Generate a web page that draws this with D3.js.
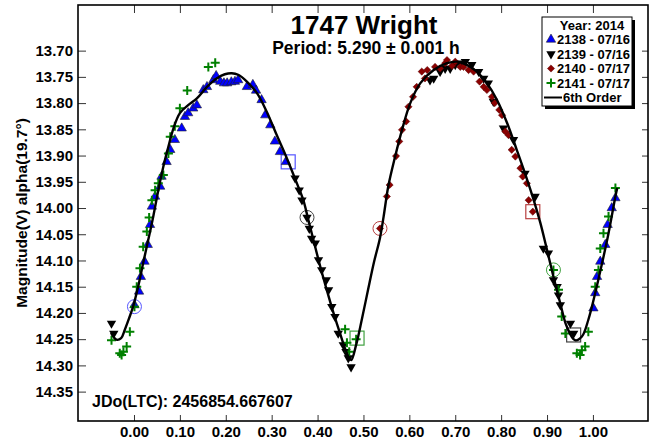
<!DOCTYPE html>
<html>
<head>
<meta charset="utf-8">
<script src="https://cdn.jsdelivr.net/npm/d3@7"></script>
<style>
  body { margin: 0; background: #fff; }
  svg text { font-family: Arial, "Liberation Sans", sans-serif; font-weight: bold; fill: #000; }
</style>
</head>
<body>
<svg id="chart" width="654" height="445"></svg>
<script>
// ---- data: [phase, magnitude] ----
const s2138 = [
  [0.001, 14.185], [0.011, 14.159], [0.015, 14.131], [0.023, 14.102], [0.030, 14.070], [0.035, 14.032],
  [0.039, 13.997], [0.046, 13.978], [0.057, 13.959], [0.060, 13.940], [0.071, 13.912], [0.079, 13.889],
  [0.089, 13.870], [0.104, 13.848], [0.111, 13.826], [0.118, 13.819], [0.129, 13.810], [0.137, 13.804],
  [0.151, 13.775], [0.159, 13.769], [0.173, 13.756], [0.179, 13.748], [0.188, 13.759], [0.196, 13.762],
  [0.203, 13.762], [0.212, 13.760], [0.220, 13.759], [0.227, 13.756], [0.246, 13.769], [0.259, 13.765],
  [0.266, 13.776], [0.278, 13.794], [0.286, 13.823], [0.297, 13.842], [0.307, 13.873], [0.318, 13.893],
  [0.331, 13.912],
  [1.001, 14.191], [1.005, 14.162], [1.009, 14.131], [1.016, 14.102], [1.027, 14.070], [1.032, 14.032],
  [1.041, 14.000], [1.049, 13.981]
];
const s2139 = [
  [-0.049, 14.220], [-0.044, 14.239],
  [0.351, 13.943], [0.360, 13.966], [0.366, 13.985], [0.377, 14.018], [0.382, 14.039], [0.387, 14.058],
  [0.395, 14.067], [0.402, 14.099], [0.409, 14.118], [0.419, 14.137], [0.424, 14.156], [0.431, 14.188],
  [0.438, 14.207], [0.445, 14.239], [0.456, 14.261], [0.462, 14.274], [0.467, 14.286], [0.473, 14.303],
  [0.645, 13.756], [0.653, 13.753], [0.667, 13.740], [0.678, 13.734], [0.689, 13.734], [0.700, 13.727],
  [0.711, 13.724], [0.722, 13.721], [0.736, 13.727], [0.751, 13.740], [0.762, 13.753], [0.772, 13.762],
  [0.783, 13.797], [0.805, 13.848], [0.827, 13.870], [0.852, 13.934], [0.874, 13.978], [0.892, 14.077],
  [0.903, 14.086], [0.914, 14.137], [0.922, 14.150], [0.925, 14.166], [0.929, 14.185], [0.951, 14.220],
  [0.958, 14.239]
];
const s2140 = [
  [0.536, 14.039], [0.551, 13.978], [0.557, 13.956], [0.571, 13.901], [0.578, 13.873], [0.584, 13.851],
  [0.593, 13.835], [0.598, 13.807], [0.608, 13.788], [0.616, 13.769], [0.627, 13.740], [0.634, 13.753],
  [0.639, 13.737], [0.656, 13.731], [0.667, 13.734], [0.678, 13.724], [0.682, 13.718], [0.693, 13.729],
  [0.700, 13.721], [0.711, 13.731], [0.718, 13.731], [0.729, 13.737], [0.740, 13.740], [0.753, 13.759],
  [0.762, 13.769], [0.769, 13.775], [0.780, 13.788], [0.786, 13.800], [0.796, 13.813], [0.802, 13.823],
  [0.809, 13.854], [0.816, 13.861], [0.823, 13.889], [0.831, 13.902], [0.842, 13.924], [0.847, 13.940],
  [0.856, 13.953], [0.860, 13.985], [0.869, 14.007]
];
const s2141 = [
  [-0.049, 14.252], [-0.031, 14.277], [-0.027, 14.280], [-0.023, 14.274], [-0.016, 14.264], [-0.009, 14.236],
  [0.001, 14.188], [0.006, 14.150], [0.013, 14.115], [0.020, 14.074], [0.028, 14.045], [0.033, 14.018],
  [0.039, 13.985], [0.046, 13.966], [0.053, 13.953], [0.064, 13.937], [0.075, 13.896], [0.079, 13.864],
  [0.089, 13.844], [0.100, 13.810], [0.116, 13.776], [0.162, 13.731], [0.177, 13.723],
  [0.460, 14.231], [0.464, 14.257], [0.469, 14.274], [0.484, 14.250],
  [0.914, 14.118], [0.925, 14.156], [0.932, 14.207], [0.940, 14.239], [0.965, 14.277], [0.972, 14.280],
  [0.976, 14.271], [0.983, 14.264], [0.990, 14.236], [1.005, 14.150], [1.012, 14.118], [1.016, 14.077],
  [1.023, 14.048], [1.034, 14.016], [1.049, 13.962]
];
// 6th order fit
const fit6 = [
  [-0.050, 14.238], [-0.038, 14.251], [-0.028, 14.248], [-0.020, 14.232], [-0.011, 14.211], [-0.002, 14.188],
  [0.009, 14.150], [0.020, 14.105], [0.031, 14.061], [0.042, 14.016], [0.053, 13.966], [0.064, 13.921],
  [0.075, 13.883], [0.086, 13.848], [0.100, 13.819], [0.118, 13.804], [0.137, 13.791], [0.159, 13.769],
  [0.180, 13.753], [0.198, 13.745], [0.213, 13.743], [0.227, 13.746], [0.246, 13.759], [0.268, 13.781],
  [0.289, 13.816], [0.311, 13.861], [0.333, 13.905], [0.355, 13.953], [0.369, 13.985], [0.380, 14.023],
  [0.391, 14.061], [0.406, 14.112], [0.420, 14.156], [0.435, 14.201], [0.449, 14.239], [0.464, 14.277],
  [0.473, 14.290], [0.484, 14.261], [0.497, 14.210], [0.510, 14.156], [0.523, 14.103], [0.536, 14.057],
  [0.544, 14.016], [0.554, 13.959], [0.569, 13.902], [0.584, 13.851], [0.602, 13.800], [0.624, 13.762],
  [0.653, 13.737], [0.682, 13.724], [0.704, 13.721], [0.725, 13.727], [0.747, 13.740], [0.769, 13.762],
  [0.791, 13.794], [0.813, 13.838], [0.834, 13.889], [0.852, 13.934], [0.871, 13.985], [0.885, 14.027],
  [0.900, 14.080], [0.914, 14.131], [0.929, 14.182], [0.943, 14.226], [0.961, 14.252], [0.976, 14.245],
  [0.990, 14.213], [1.005, 14.162], [1.020, 14.105], [1.034, 14.048], [1.049, 13.978], [1.053, 13.962]
];
// first / last point of each session: [phase, mag, session, shape]
const sessionMarks = [
  [0.001, 14.188, '2138', 'circle'], [0.336, 13.912, '2138', 'square'],
  [0.377, 14.018, '2139', 'circle'], [0.958, 14.242, '2139', 'square'],
  [0.536, 14.039, '2140', 'circle'], [0.869, 14.007, '2140', 'square'],
  [0.914, 14.118, '2141', 'circle'], [0.486, 14.248, '2141', 'square']
];
const xTicks = [0.0, 0.1, 0.2, 0.3, 0.4, 0.5, 0.6, 0.7, 0.8, 0.9, 1.0];
const yTicks = [13.70, 13.75, 13.80, 13.85, 13.90, 13.95, 14.00, 14.05, 14.10, 14.15, 14.20, 14.25, 14.30, 14.35];
const legendLabels = ['2138 - 07/16', '2139 - 07/16', '2140 - 07/17', '2141 - 07/17'];

// ---- layout ----
const frame = {left: 78, right: 648, top: 5, bottom: 421};
const x = d3.scaleLinear().domain([-0.122, 1.12]).range([frame.left, frame.right]);
const y = d3.scaleLinear().domain([13.613, 14.406]).range([frame.top, frame.bottom]);
const svg = d3.select('#chart');
const fmt = d3.format('.2f');

const colors = {'2138': '#0000ff', '2139': '#000000', '2140': '#8b0000', '2141': '#008000'};
const markColors = {'2138': '#5555ff', '2139': '#444444', '2140': '#b84040', '2141': '#40a040'};

function drawSymbol(g, key) {
    if (key === '2138') {
        g.append('path').attr('d', d3.symbol(d3.symbolTriangle, 38)())
            .attr('fill', colors[key]).attr('stroke', '#222').attr('stroke-width', 0.6);
    } else if (key === '2139') {
        g.append('path').attr('d', d3.symbol(d3.symbolTriangle, 38)())
            .attr('transform', 'rotate(180)').attr('fill', colors[key]);
    } else if (key === '2140') {
        g.append('path').attr('d', d3.symbol(d3.symbolSquare, 26)())
            .attr('transform', 'rotate(45)').attr('fill', colors[key]).attr('stroke', '#5a0000').attr('stroke-width', 0.5);
    } else {
        g.append('path').attr('d', 'M-4.5,0H4.5M0,-4.5V4.5')
            .attr('stroke', colors[key]).attr('stroke-width', 2).attr('fill', 'none');
    }
}

// axes (ticks on all four sides, pointing inward)
const axes = [
    {axis: d3.axisLeft(y).tickValues(yTicks).tickSize(-8).tickPadding(5).tickFormat(fmt), t: `translate(${frame.left},0)`},
    {axis: d3.axisRight(y).tickValues(yTicks).tickSize(-6).tickFormat(''), t: `translate(${frame.right},0)`},
    {axis: d3.axisBottom(x).tickValues(xTicks).tickSize(-6).tickPadding(5).tickFormat(fmt), t: `translate(0,${frame.bottom})`},
    {axis: d3.axisTop(x).tickValues(xTicks).tickSize(-8).tickFormat(''), t: `translate(0,${frame.top})`}
];
axes.forEach(a => {
    const g = svg.append('g').attr('transform', a.t).call(a.axis);
    g.select('.domain').remove();
    g.selectAll('line').attr('stroke', '#333').attr('stroke-width', 1);
    g.selectAll('text').style('font-size', '15px');
});

// session start/end markers
svg.append('g').selectAll('g')
    .data(sessionMarks)
    .enter().append('g')
    .attr('transform', d => `translate(${x(d[0])},${y(d[1])})`)
    .each(function (d) {
        const g = d3.select(this);
        if (d[3] === 'circle') {
            g.append('circle').attr('r', 7).attr('fill', 'none').attr('stroke', markColors[d[2]]).attr('stroke-width', 1);
        } else {
            g.append('rect').attr('x', -7).attr('y', -7).attr('width', 14).attr('height', 14)
                .attr('fill', 'none').attr('stroke', markColors[d[2]]).attr('stroke-width', 1.2);
        }
    });

// data points
const series = [['2139', s2139], ['2140', s2140], ['2138', s2138], ['2141', s2141]];
series.forEach(([key, data]) => {
    svg.append('g').selectAll('g')
        .data(data)
        .enter().append('g')
        .attr('transform', d => `translate(${x(d[0])},${y(d[1])})`)
        .each(function () { drawSymbol(d3.select(this), key); });
});

// fitted curve
svg.append('path')
    .datum(fit6)
    .attr('fill', 'none')
    .attr('stroke', '#000')
    .attr('stroke-width', 2.4)
    .attr('d', d3.line().x(d => x(d[0])).y(d => y(d[1])).curve(d3.curveCatmullRom.alpha(0.5)));

// frame
svg.append('rect')
    .attr('x', frame.left).attr('y', frame.top)
    .attr('width', frame.right - frame.left).attr('height', frame.bottom - frame.top)
    .attr('fill', 'none').attr('stroke', '#000').attr('stroke-width', 1.6);

// titles
svg.append('text').attr('x', 364).attr('y', 34).attr('text-anchor', 'middle')
    .style('font-size', '26px').text('1747 Wright');
svg.append('text').attr('x', 366).attr('y', 54).attr('text-anchor', 'middle')
    .style('font-size', '17.5px').text('Period: 5.290 ± 0.001 h');
svg.append('text').attr('x', 92).attr('y', 407)
    .style('font-size', '16px').text('JDo(LTC): 2456854.667607');
svg.append('text').attr('transform', 'translate(27,213) rotate(-90)').attr('text-anchor', 'middle')
    .style('font-size', '15.5px').text('Magnitude(V) alpha(19.7°)');

// legend
const lg = svg.append('g').attr('transform', 'translate(542,17)');
lg.append('rect').attr('x', 3).attr('y', 3).attr('width', 90).attr('height', 89).attr('fill', '#000');
lg.append('rect').attr('width', 90).attr('height', 89).attr('fill', '#fff').attr('stroke', '#000').attr('stroke-width', 1);
lg.append('text').attr('x', 50).attr('y', 12.5).attr('text-anchor', 'middle').style('font-size', '13px').text('Year: 2014');
legendLabels.forEach((label, i) => {
    const row = lg.append('g').attr('transform', `translate(0,${22.5 + i * 14.5})`);
    drawSymbol(row.append('g').attr('transform', 'translate(9,0)'), label.slice(0, 4));
    row.append('text').attr('x', 15).attr('y', 4.5).style('font-size', '13px').text(label);
});
const fitRow = lg.append('g').attr('transform', `translate(0,${22.5 + 4 * 14.5})`);
fitRow.append('line').attr('x1', 2).attr('x2', 20).attr('stroke', '#000').attr('stroke-width', 2);
fitRow.append('text').attr('x', 21).attr('y', 4.5).style('font-size', '13px').text('6th Order');
</script>
</body>
</html>
